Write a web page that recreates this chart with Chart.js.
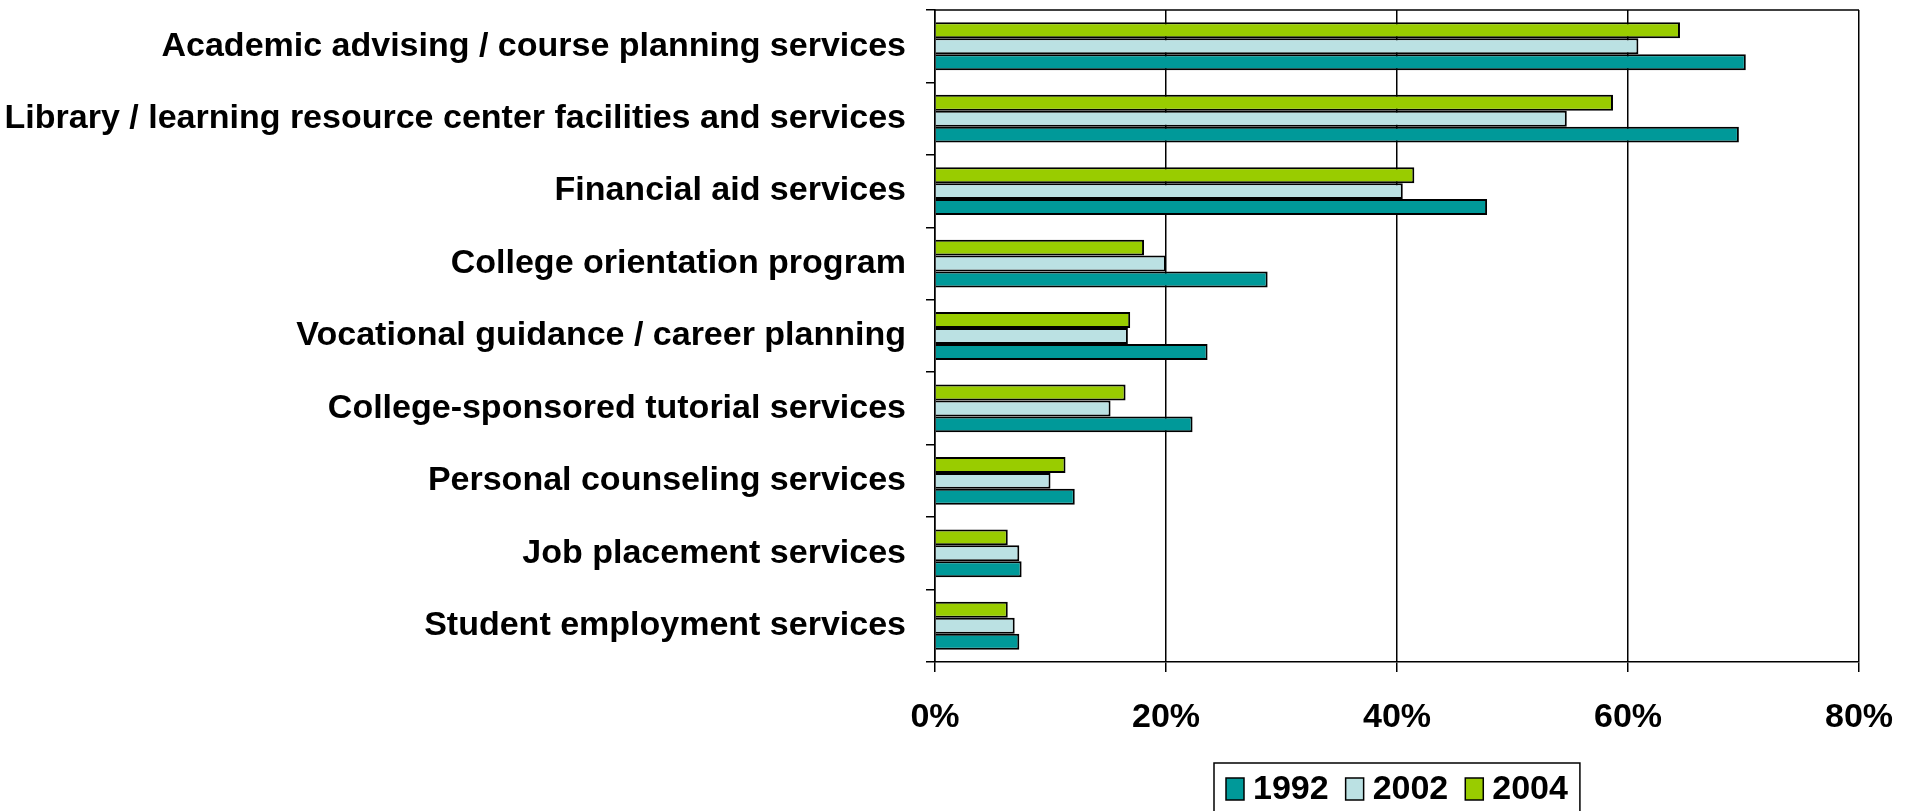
<!DOCTYPE html>
<html>
<head>
<meta charset="utf-8">
<script src="https://cdn.jsdelivr.net/npm/chart.js@4/dist/chart.umd.min.js"></script>
<style>
  html, body { margin: 0; padding: 0; background: #fff; }
</style>
</head>
<body>
<canvas id="servicesChart" width="1906" height="811"></canvas>
<script>
const services = [
  'Academic advising / course planning services',
  'Library / learning resource center facilities and services',
  'Financial aid services',
  'College orientation program',
  'Vocational guidance / career planning',
  'College-sponsored tutorial services',
  'Personal counseling services',
  'Job placement services',
  'Student employment services'
];
const pct1992 = [70.2, 69.6, 47.8, 28.8, 23.6, 22.3, 12.1, 7.5, 7.3];
const pct2002 = [60.9, 54.7, 40.5, 20.0, 16.7, 15.2, 10.0, 7.3, 6.9];
const pct2004 = [64.5, 58.7, 41.5, 18.1, 16.9, 16.5, 11.3, 6.3, 6.3];
const xTicks = [0, 20, 40, 60, 80];

const FONT = '"Liberation Sans", Arial, sans-serif';
Chart.defaults.font.family = FONT;
Chart.defaults.color = '#000';

// top edge of the plot frame + boxed legend under the plot
const framePlugin = {
  id: 'frameAndLegend',
  afterDraw(chart) {
    const ctx = chart.ctx;
    const a = chart.chartArea;
    ctx.save();
    ctx.strokeStyle = '#000';
    ctx.lineWidth = 1.5;
    ctx.beginPath();
    ctx.moveTo(a.left, a.top);
    ctx.lineTo(a.right, a.top);
    ctx.stroke();

    const items = chart.data.datasets.slice().reverse();
    ctx.font = 'bold 34px ' + FONT;
    ctx.textBaseline = 'middle';
    const box = 18, gap = 9, itemGap = 17, pad = 12;
    let total = pad * 2 - itemGap;
    items.forEach(ds => { total += box + gap + ctx.measureText(ds.label).width + itemGap; });
    const left = Math.round((a.left + a.right) / 2 - total / 2);
    const top = 763;
    ctx.fillStyle = '#fff';
    ctx.fillRect(left, top, total, 54);
    ctx.strokeRect(left, top, total, 54);
    let x = left + pad;
    const cy = top + 26;
    items.forEach(ds => {
      ctx.fillStyle = ds.backgroundColor;
      ctx.fillRect(x, cy - 11, box, 22);
      ctx.strokeRect(x, cy - 11, box, 22);
      x += box + gap;
      ctx.fillStyle = '#000';
      ctx.fillText(ds.label, x, cy + 1);
      x += ctx.measureText(ds.label).width + itemGap;
    });
    ctx.restore();
  }
};

new Chart(document.getElementById('servicesChart'), {
  type: 'bar',
  data: {
    labels: services,
    datasets: [
      { label: '2004', data: pct2004, backgroundColor: '#99CC00' },
      { label: '2002', data: pct2002, backgroundColor: '#BBE1E3' },
      { label: '1992', data: pct1992, backgroundColor: '#009999' }
    ].map(ds => Object.assign(ds, { borderColor: '#000', borderWidth: 2 }))
  },
  options: {
    indexAxis: 'y',
    responsive: false,
    animation: false,
    datasets: { bar: { categoryPercentage: 0.66, barPercentage: 1 } },
    layout: { padding: { top: 10, right: 47, bottom: 0, left: 0 } },
    plugins: { legend: { display: false }, tooltip: { enabled: false } },
    scales: {
      x: {
        min: xTicks[0],
        max: xTicks[xTicks.length - 1],
        afterBuildTicks: scale => { scale.ticks = xTicks.map(v => ({ value: v })); },
        afterFit: scale => {
          scale.height = 149;
          scale.paddingLeft = 0;
          scale.paddingRight = 0;
        },
        ticks: {
          callback: v => v + '%',
          font: { size: 34, weight: 'bold' },
          color: '#000',
          padding: 25,
          maxRotation: 0
        },
        grid: { color: '#000', lineWidth: 1.5, tickLength: 10 },
        border: { color: '#000', width: 1.5 }
      },
      y: {
        afterFit: scale => {
          scale.width = 935;
          scale.paddingTop = 0;
          scale.paddingBottom = 0;
        },
        ticks: { font: { size: 34, weight: 'bold' }, color: '#000', padding: 20 },
        grid: { drawOnChartArea: false, color: '#000', lineWidth: 1.5, tickLength: 9, offset: true },
        border: { color: '#000', width: 1.5 }
      }
    }
  },
  plugins: [framePlugin]
});
</script>
</body>
</html>
